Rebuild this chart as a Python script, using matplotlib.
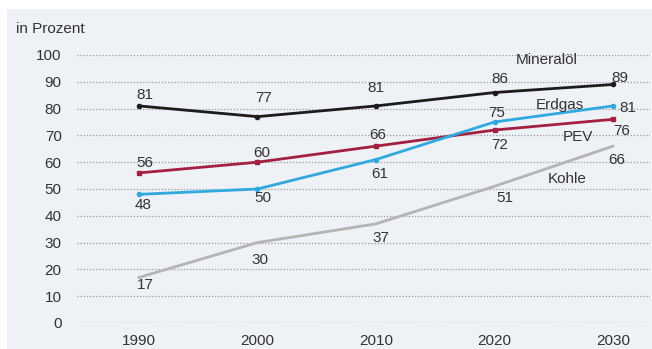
"""Primärenergieverbrauch nach Energieträgern, 1990-2030."""

import matplotlib

matplotlib.use("Agg")

import matplotlib.pyplot as plt
from matplotlib.patches import Rectangle

years = [1990, 2000, 2010, 2020, 2030]
mineraloel = [81, 77, 81, 86, 89]
erdgas = [48, 50, 61, 75, 81]
pev = [56, 60, 66, 72, 76]
kohle = [17, 30, 37, 51, 66]
y_ticks = [0, 10, 20, 30, 40, 50, 60, 70, 80, 90, 100]

# pixel offsets of the value labels, one per point
label_offsets = {
    "Mineralöl": [(6, 11), (6, 19), (0, 18), (5, 14), (7, 6)],
    "PEV": [(6, 10), (4, 9), (2, 11), (5, -15), (9, -12)],
    "Erdgas": [(4, -11), (5, -9), (4, -14), (2, 9), (15, -2)],
    "Kohle": [(6, -8), (3, -17), (5, -14), (10, -12), (4, -14)],
}
series = [
    ("Kohle", kohle, "#b4b4b4", None, (2026.1, 53.7)),
    ("PEV", pev, "#a3203f", "s", (2027.0, 69.4)),
    ("Erdgas", erdgas, "#2eaadf", "o", (2025.5, 81.3)),
    ("Mineralöl", mineraloel, "#1c1c1c", "o", (2024.4, 98.0)),
]

plt.rcParams["font.family"] = ["Liberation Sans", "DejaVu Sans"]
text_color = "#333333"
fs = 11

fig = plt.figure(figsize=(6.52, 3.49), dpi=100)
fig.patches.append(Rectangle((7 / 652, 0), 1, 1 - 9 / 349, transform=fig.transFigure,
                             facecolor="#eef1f5", edgecolor="none", zorder=-5))
ax = fig.add_axes([77 / 652, 1 - 323 / 349, (650 - 77) / 652, (323 - 55) / 349])
ax.set_facecolor("none")
ax.set_zorder(2)

for name, values, color, marker, label_pos in series:
    ax.plot(years, values, color=color, linewidth=2, marker=marker, markersize=3,
            clip_on=False, zorder=3)
    for x, v, (dx, dy) in zip(years, values, label_offsets[name]):
        ax.annotate(str(v), (x, v), xytext=(dx, dy), textcoords="offset pixels",
                    ha="center", va="center", fontsize=fs, color=text_color, zorder=4)
    ax.text(label_pos[0], label_pos[1], name, ha="center", va="center",
            fontsize=fs, color=text_color, zorder=4)

ax.set_xlim(1990 - 62 / 11.87, 2030 + 37 / 11.87)
ax.set_ylim(0, 100)
ax.set_yticks(y_ticks)
ax.set_xticks(years)
ax.grid(axis="y", linestyle=(0, (1, 1.5)), color="#999999", linewidth=0.9, zorder=1)
ax.grid(axis="x", visible=False)
for spine in ax.spines.values():
    spine.set_visible(False)
ax.tick_params(axis="both", length=0, labelsize=fs, labelcolor=text_color)
ax.tick_params(axis="y", pad=11)
ax.tick_params(axis="x", pad=8)

fig.text(16 / 652, 1 - 29 / 349, "in Prozent", ha="left", va="center",
         fontsize=fs, color=text_color)

fig.savefig("out.png", dpi=100, facecolor="white")
